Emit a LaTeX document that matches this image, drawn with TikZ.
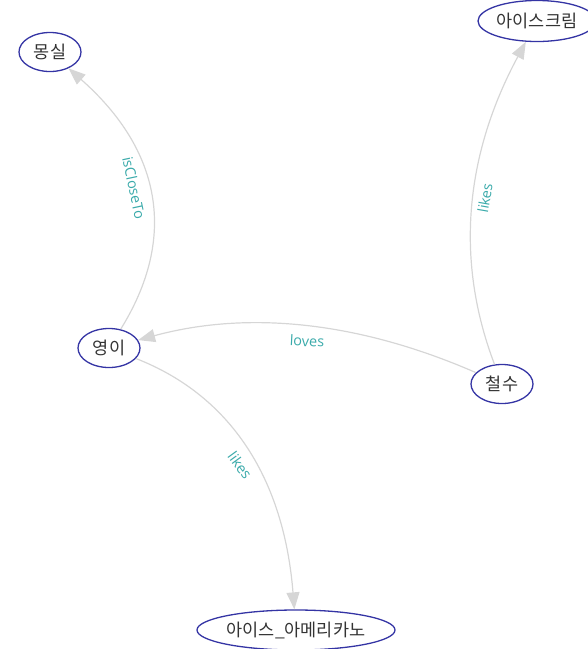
\documentclass[tikz,border=0pt]{standalone}
\usepackage{fontspec}
\newfontfamily\krfont{Noto Sans CJK KR}
\newfontfamily\lblfont{Open Sans}
\usetikzlibrary{arrows.meta,shapes.geometric}
\definecolor{nodeblue}{HTML}{3434A4}
\definecolor{edgegray}{HTML}{D6D6D6}
\definecolor{lblteal}{HTML}{3AAAAA}

\begin{document}
\begin{tikzpicture}[x=1pt, y=-1pt,
		concept/.style={ellipse, draw=nodeblue, line width=1.3pt, inner sep=0pt,
			minimum width=62pt, minimum height=39pt,
			font=\krfont\fontsize{17.5}{19}\selectfont, text=black!80},
		rel/.style={draw=edgegray, line width=1.2pt, -{Triangle[length=17pt, width=13pt]}},
		lbl/.style={text=lblteal, font=\lblfont\fontsize{14.5}{16}\selectfont, inner sep=1pt}]
		%%%%% START %%%%%
		
		\useasboundingbox (0, 0) rectangle (588, 649);
		
		\node[concept] (mongsil) at (50, 52) {몽실};
		\node[concept, minimum width=118pt, minimum height=41pt] (icecream) at (537, 21) {아이스크림};
		\node[concept] (yeongi) at (109, 348) {영이};
		\node[concept] (cheolsu) at (502, 384) {철수};
		\node[concept, minimum width=198pt, minimum height=40pt] (americano) at (296, 630) {아이스\_아메리카노};
		
		\draw[rel] (yeongi) .. controls (178, 237) and (161, 150) .. (mongsil);
		\draw[rel] (cheolsu) .. controls (454, 258) and (466, 153) .. (icecream);
		\draw[rel] (cheolsu) .. controls (360, 322) and (249, 310) .. (yeongi);
		\draw[rel] (yeongi) .. controls (232, 396) and (284, 480) .. (americano);
		
		\node[lbl, rotate=-78] (closeto) at (134, 188) {isCloseTo};
		\node[lbl, rotate=80] (likesice) at (485, 198) {likes};
		\node[lbl, rotate=-3] (loves) at (307, 341) {loves};
		\node[lbl, rotate=-54] (likesame) at (240, 465) {likes};
		
		%%%%% END %%%%%
	\end{tikzpicture}
\end{document}
